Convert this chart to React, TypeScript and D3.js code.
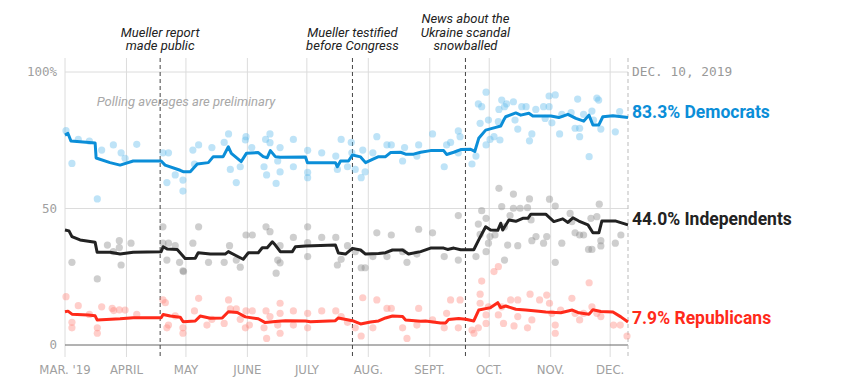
import React, { useEffect, useRef } from 'react';
import * as d3 from 'd3';

// days since March 1, 2019 -> approval (%)
const demLine = [
  [0, 76.9], [1.5, 77.5], [3, 74.7], [15.2, 74], [15.7, 68.5], [22.7, 66.8], [27.8, 65.9], [34.4, 67.4],
  [48.5, 67.4], [50.5, 65.9], [58.1, 64], [59.6, 63.5], [63.2, 63.5], [66.7, 66.3], [72.3, 66.8], [74.8, 69],
  [79.8, 69], [82.4, 72.6], [83.9, 70.2], [88.9, 67.2], [91.5, 70.2], [97.5, 70.5], [100, 69], [102, 68.6],
  [103.6, 71.2], [106.1, 69], [108.6, 68.8], [121.3, 68.9], [122.3, 66.8], [136.4, 66.8], [137.4, 65.3],
  [139, 67.4], [143, 67.4], [145, 69.6], [149.1, 68.9], [151.6, 66.8], [155.1, 68], [158.2, 69], [161.7, 69],
  [164.2, 70.5], [169.3, 70.6], [171.8, 69.9], [175.8, 69.9], [179.4, 70.6], [184.4, 71.2], [191, 71.2],
  [192.5, 69.8], [196.1, 70.6], [199.6, 71.6], [204.6, 71.7], [206.7, 70.9], [208.7, 75.7], [212.2, 78.7],
  [217.3, 79.7], [219.8, 80.2], [221.3, 82.4], [222.3, 83.6], [227.4, 85], [229.9, 84.2], [234, 84.9],
  [236, 83.9], [245.1, 83.9], [249.1, 83.3], [253.7, 84.5], [257.7, 83], [261.7, 82], [264.3, 84.2],
  [266.3, 80.6], [269.3, 80.6], [271.3, 83.6], [276.4, 84], [284, 83.3]
];

const indLine = [
  [0, 42.1], [2, 41.8], [3.5, 39.7], [7.6, 38.5], [15.2, 37.6], [16.2, 34], [22.7, 34], [27.8, 33.3],
  [34.4, 34], [48.5, 34.2], [49.5, 36], [51.5, 35.2], [56.6, 35], [60.6, 31.7], [65.7, 31.8], [67.2, 33.8],
  [73.3, 33.3], [80.8, 33.3], [82.4, 34.2], [86.4, 32.7], [89.9, 31.4], [92.5, 33.8], [97.5, 33.8],
  [99.5, 35.6], [102, 35.6], [104.6, 37.8], [106.1, 36.6], [108.6, 34.2], [114.7, 34.2], [116.2, 36],
  [121.3, 36.3], [136.4, 36.6], [137.9, 33.7], [141.5, 33.3], [145, 35.4], [149.1, 34.8], [151.6, 33.3],
  [158.2, 33.5], [161.7, 33.8], [165.2, 34.8], [170.3, 34.8], [173.3, 33.3], [179.4, 34.2], [184.4, 35.5],
  [191, 35.5], [193, 35], [196.1, 35.5], [199.6, 34.9], [206.2, 34.9], [208.7, 38.5], [212.2, 43.3],
  [214.7, 42.1], [218.3, 42], [219.8, 44.6], [220.8, 42.1], [223.9, 45.8], [227.4, 45.3], [230.9, 46.4],
  [233.5, 46.4], [235, 47.9], [242.5, 47.9], [246.6, 45.2], [251.1, 46.2], [253.7, 44.9], [256.2, 46.6],
  [259.2, 45.4], [263.8, 44], [266.3, 41.1], [269.3, 41.1], [270.8, 45.4], [277.9, 45.4], [284, 44.0]
];

const repLine = [
  [0, 12.2], [1.5, 12.4], [3.5, 11.3], [11.6, 11], [15.2, 10.7], [16.2, 9.2], [27.8, 9.6], [34.4, 10],
  [48.5, 10], [49.5, 11.2], [53.1, 10.6], [58.1, 10.2], [59.6, 8.5], [65.7, 8.8], [68.2, 10.6], [73.3, 9.8],
  [79.3, 9.9], [82.4, 12.2], [86.9, 11.9], [91, 10.3], [97.5, 9.6], [101, 8.2], [106.1, 8.6], [111.2, 8.9],
  [121.3, 8.8], [123.8, 8.5], [136.4, 8.9], [137.9, 9.9], [145, 8.9], [149.1, 7.7], [154.1, 8.4],
  [158.2, 8.8], [161.7, 9.9], [165.2, 10.6], [170.3, 10.4], [171.8, 9.2], [179.4, 8.7], [181.9, 8.8],
  [189.5, 8.1], [192, 8.1], [193.5, 9.3], [198.6, 9.7], [202.1, 9.4], [206.2, 8.8], [208.7, 12.8],
  [214.7, 13.7], [218.3, 15.5], [219.8, 13.7], [222.3, 14.3], [227.4, 13.1], [232.4, 12.8], [239, 12.4],
  [242.5, 12.1], [250.1, 11.8], [255.9, 12.8], [259.2, 11.8], [264.3, 11.3], [266.3, 12.9], [270.3, 12.3],
  [276.4, 12.1], [280.4, 10.3], [284, 8.4]
];

const demPolls = [
  [0.5, 78.5], [3.5, 66.5], [6.7, 75.3], [12.3, 74.7], [16.3, 53.5], [18.5, 71.4], [24.4, 73.3], [28.3, 70.4],
  [30.3, 68.4], [36.2, 73.5], [49.4, 70.4], [52.2, 70.4], [51.4, 59.5], [55.6, 62.3], [59.5, 60.4], [59.5, 56.4],
  [64.5, 71.4], [67.4, 73.3], [65.3, 66.3], [74.1, 72.3], [80.3, 74.2], [82.5, 77.3], [83.4, 64.3], [86.4, 59.5],
  [88.4, 65.3], [91, 75.1], [91.3, 76.3], [94.2, 72.3], [101.2, 75.3], [103.4, 77.3], [103.4, 74.1], [108.5, 72.3],
  [100.4, 65.3], [101.7, 62.3], [107.3, 67.4], [108.5, 63.4], [106.5, 59.2], [115.2, 75.3], [115.2, 65.3],
  [122.4, 71.3], [122.4, 63.2], [122.4, 61.3], [129.5, 70.4], [136.6, 69.2], [137.4, 64.3], [139.3, 75.3],
  [142.5, 65.3], [144.4, 74.2], [144.7, 70.4], [146.4, 64.3], [149.4, 61.3], [150.2, 71.4], [151.4, 63.4],
  [155.3, 70.4], [157.3, 76.3], [162.4, 73.3], [164.6, 73.3], [170.3, 67.4], [171.3, 72.3], [177.5, 69.2],
  [178.4, 73.3], [185.4, 77.3], [191.3, 65.3], [192.5, 73.3], [194.5, 74.2], [198.4, 78.4], [199.3, 76.3],
  [198.4, 70.4], [205.3, 66.3], [207.3, 69.2], [208.5, 88.3], [210.2, 87.3], [209.4, 81.2], [212.4, 92.6],
  [212.4, 73.3], [213.6, 82.4], [214.4, 75.3], [216.4, 76.3], [218.6, 81.8], [218.9, 86.3], [219.4, 75.1],
  [220.3, 89.7], [221.7, 87.3], [222.8, 88.3], [226.2, 89.1], [227, 82.4], [228.4, 79.1], [230.4, 87.3],
  [232.6, 87.3], [234.3, 74.8], [235.5, 77.3], [237.5, 86.3], [241.4, 87.3], [242.2, 83], [244.2, 91.2],
  [244.2, 87.3], [245.6, 81.4], [247.3, 91.6], [249.5, 77.3], [250.6, 84.5], [255.3, 85.1], [257.3, 79.4],
  [258.6, 90.1], [259.6, 79.4], [259.6, 76.3], [261.6, 84.5], [264.4, 69], [265.8, 85.7], [266.6, 82.4],
  [268.3, 90.4], [269.2, 89.7], [270.3, 79.1], [277.6, 78.1], [279.8, 85.5]
];

const indPolls = [
  [3.5, 30.3], [16.3, 24.2], [21.4, 36.6], [27.4, 38.2], [27.4, 35.7], [28.3, 29.3], [33.3, 37.3], [24.4, 34.2],
  [49.4, 43.3], [49.4, 37.3], [52.2, 37.3], [51.4, 31.1], [55.6, 36.4], [57.8, 30.3], [59.5, 27.2], [59.8, 26.9],
  [64.5, 37.3], [67.4, 43.3], [72.4, 30.3], [80.3, 30.3], [83, 36.4], [86.4, 31.1], [88.4, 28.5], [91.3, 40.3],
  [94.5, 40.3], [101.4, 43.3], [103.4, 41.5], [107.3, 31.1], [108.5, 30.1], [106.5, 26.3], [108.5, 36.4],
  [115.2, 39.4], [122.4, 43.3], [122.4, 37.5], [122.4, 32.4], [129.5, 39.4], [136.6, 39.4], [137.4, 29.3],
  [139.3, 31.4], [142.5, 36.4], [146.4, 34.2], [149.4, 28.3], [151.4, 28.3], [155.3, 32.4], [157.3, 41.1],
  [162.4, 32.4], [164.6, 40.3], [172.5, 30.3], [170.3, 34.2], [177.5, 33.3], [178.4, 42.4], [185.4, 41.1],
  [191.3, 32.4], [198.4, 31.1], [198.4, 47.4], [207.3, 32.4], [208.5, 44.3], [210.2, 49.2], [209.4, 40.5],
  [212.4, 46.4], [212.4, 34.2], [213.6, 37.3], [214.4, 39.7], [216.9, 40.3], [218.9, 57.4], [220.3, 50.7],
  [221.7, 43.3], [221.7, 31.1], [223.3, 36.6], [224.5, 47.4], [226.2, 55.3], [226.2, 50.1], [228.4, 36.4],
  [229.6, 50.1], [233.3, 50.3], [234.3, 53.5], [235.1, 45.8], [235.5, 38.2], [237.6, 39.7], [241.4, 37.3],
  [243, 39.7], [244.4, 53.4], [247.3, 50.9], [247.3, 30.3], [250.6, 37.3], [254.8, 48.2], [255.7, 45.2],
  [257.3, 41.1], [259.6, 40.3], [261.6, 40.3], [264.1, 35], [265.3, 46.4], [265.8, 35], [268.3, 47],
  [269.5, 51.6], [270.3, 38.2], [270.3, 36.3], [277.6, 37.3], [280.4, 40.3]
];

const repPolls = [
  [0.5, 17.7], [3.5, 8.3], [3.5, 6.3], [6.7, 14.4], [12.3, 11.2], [16.3, 6.3], [16.3, 4.3], [18.5, 14],
  [23.8, 13.4], [24.6, 12.6], [27.4, 12.9], [30.3, 12.8], [36.2, 11.2], [49.4, 16.5], [50.6, 15.5], [51.4, 6.3],
  [52.2, 7.3], [55.6, 10.7], [59.5, 6.3], [59.5, 4.3], [65.3, 12.5], [67.4, 17.1], [71.6, 7.3], [74.1, 9.4],
  [80.3, 7.9], [82.5, 16.5], [83.4, 13.2], [86.4, 13.2], [88.4, 9.4], [91, 6.3], [91.3, 12.5], [94.5, 12.5],
  [93, 7.3], [101.4, 12.5], [100.4, 6.3], [103.4, 10.4], [101.7, 2.4], [107.3, 7.3], [108.5, 15.3],
  [108.5, 11.6], [108.5, 4.3], [115.2, 12.5], [115.2, 7.3], [122.4, 11.6], [122.4, 6.3], [129.5, 12.5],
  [136.6, 12.5], [139.3, 10.4], [142.5, 8.3], [146.4, 6.3], [149.4, 3.3], [150.2, 17.3], [155.3, 6.3],
  [157.3, 16.5], [162.4, 13.4], [164.6, 13.4], [170.3, 6.3], [172.5, 2.4], [177.5, 7.3], [178.4, 13.4],
  [185.4, 9.2], [191.3, 6.3], [192.5, 11.6], [194.5, 16.5], [198.4, 6.3], [199.3, 16.5], [205.3, 5.5],
  [206.3, 4.3], [208.5, 6.3], [209.4, 18.6], [210.2, 23.4], [209.4, 15.3], [212.4, 11], [212.4, 7.9],
  [213.6, 14], [216.4, 26.9], [218.6, 28.7], [218.6, 11], [220.3, 14], [221.2, 7.9], [224.8, 16.5], [226.5, 7],
  [228.4, 10.4], [228.4, 16.5], [233.3, 6.3], [234.6, 18.6], [235.5, 9.2], [239.4, 16.5], [243, 18.3],
  [244.4, 15.3], [245.6, 11.6], [247.3, 7.3], [247.3, 4.3], [250, 12.8], [255.7, 17.1], [257.3, 11.6],
  [259.6, 9.2], [261.6, 11.6], [264.4, 22.8], [265.8, 14], [268.3, 11.6], [270.3, 10.4], [276.7, 7.3],
  [280.1, 7.3], [283.5, 3.3]
];

const monthLabels = ["MAR. '19", "APRIL", "MAY", "JUNE", "JULY", "AUG.", "SEPT.", "OCT.", "NOV.", "DEC."];
const yTicks = [0, 50, 100];
const yTickLabels = ["0", "50", "100%"];

const events = [
  { date: "2019-04-18", lines: ["Mueller report", "made public"] },
  { date: "2019-07-24", lines: ["Mueller testified", "before Congress"] },
  { date: "2019-09-19", lines: ["News about the", "Ukraine scandal", "snowballed"] }
];

const series = [
  { name: "Democrats", line: demLine, polls: demPolls, latest: "83.3%", labelAt: 83.3, color: "#0b8ed8", dot: "#63bdeb" },
  { name: "Independents", line: indLine, polls: indPolls, latest: "44.0%", labelAt: 44.0, color: "#222222", dot: "#8a8a8a" },
  { name: "Republicans", line: repLine, polls: repPolls, latest: "7.9%", labelAt: 7.9, color: "#ff2a1a", dot: "#ff8a80" }
];

const start = new Date(2019, 2, 1);
const end = new Date(2019, 11, 10);

const App = () => {
  const svgRef = useRef(null);

  useEffect(() => {
    const svg = d3.select(svgRef.current);
    svg.selectAll("*").remove();

    const left = 65, right = 628, top = 58, bottom = 357;
    const x = d3.scaleTime().domain([start, end]).range([left, right]);
    const y = d3.scaleLinear().domain([0, 100]).range([345, 72]);
    const day = (d) => start.getTime() + d * 864e5;

    const mono = "'DejaVu Sans Mono', monospace";
    const sans = "Roboto, 'Liberation Sans', sans-serif";
    const narrow = "'Liberation Sans Narrow', 'DejaVu Sans Condensed', Roboto, sans-serif";

    // month gridlines + labels
    const months = d3.timeMonth.range(start, end);
    svg.append("g").selectAll("line").data(months).join("line")
      .attr("x1", d => x(d)).attr("x2", d => x(d))
      .attr("y1", top).attr("y2", bottom)
      .attr("stroke", "#dcdcdc").attr("stroke-width", 1);

    svg.append("g").selectAll("text").data(months).join("text")
      .attr("x", d => x(d)).attr("y", 374)
      .attr("text-anchor", "middle")
      .attr("font-family", narrow).attr("font-size", 13)
      .attr("fill", "#a0a0a0")
      .text((d, i) => monthLabels[i]);

    // horizontal gridlines
    svg.append("g").selectAll("line").data(yTicks).join("line")
      .attr("x1", left).attr("x2", right)
      .attr("y1", d => y(d)).attr("y2", d => y(d))
      .attr("stroke", d => d === 0 ? "#666" : "#dcdcdc").attr("stroke-width", 1);

    svg.append("g").selectAll("text").data(yTicks).join("text")
      .attr("x", 57).attr("y", d => y(d)).attr("dy", "0.35em")
      .attr("text-anchor", "end")
      .attr("font-family", mono).attr("font-size", 12.5)
      .attr("fill", "#a0a0a0")
      .text((d, i) => yTickLabels[i]);

    // end-date marker
    svg.append("line")
      .attr("x1", x(end)).attr("x2", x(end)).attr("y1", top).attr("y2", bottom)
      .attr("stroke", "#bbb").attr("stroke-dasharray", "4,3");
    svg.append("text")
      .attr("x", x(end) + 4).attr("y", 76)
      .attr("font-family", mono).attr("font-size", 12.8)
      .attr("fill", "#999")
      .text("DEC. 10, 2019");

    svg.append("text")
      .attr("x", 186).attr("y", 106)
      .attr("text-anchor", "middle")
      .attr("font-family", sans).attr("font-style", "italic").attr("font-size", 13)
      .attr("fill", "#a8a8a8")
      .text("Polling averages are preliminary");

    // event annotations
    events.forEach(ev => {
      const ex = x(d3.timeParse("%Y-%m-%d")(ev.date));
      svg.append("line")
        .attr("x1", ex).attr("x2", ex).attr("y1", top).attr("y2", bottom)
        .attr("stroke", "#444").attr("stroke-dasharray", "4,3");
      const t = svg.append("text")
        .attr("text-anchor", "middle")
        .attr("font-family", sans).attr("font-style", "italic").attr("font-size", 13)
        .attr("fill", "#222");
      ev.lines.forEach((ln, i) => {
        t.append("tspan")
          .attr("x", ex)
          .attr("y", 50 - (ev.lines.length - 1 - i) * 13.5)
          .text(ln);
      });
    });

    // poll dots
    series.forEach(s => {
      svg.append("g").selectAll("circle").data(s.polls).join("circle")
        .attr("cx", d => x(day(d[0]))).attr("cy", d => y(d[1]))
        .attr("r", 3.6)
        .attr("fill", s.dot).attr("fill-opacity", 0.42);
    });

    // averages
    const line = d3.line()
      .x(d => x(day(d[0])))
      .y(d => y(d[1]));
    series.forEach(s => {
      svg.append("path")
        .datum(s.line)
        .attr("d", line)
        .attr("fill", "none")
        .attr("stroke", s.color)
        .attr("stroke-width", 3)
        .attr("stroke-linejoin", "round");

      svg.append("text")
        .attr("x", x(end) + 4).attr("y", y(s.labelAt) + 0.5)
        .attr("font-family", sans).attr("font-weight", "bold").attr("font-size", 17.5)
        .attr("fill", s.color)
        .text(`${s.latest} ${s.name}`);
    });
  }, []);

  return (
    <svg
      ref={svgRef}
      width={841}
      height={392}
      style={{ position: 'absolute', left: 0, top: 0, background: '#fff' }}
    ></svg>
  );
};

export default App;
